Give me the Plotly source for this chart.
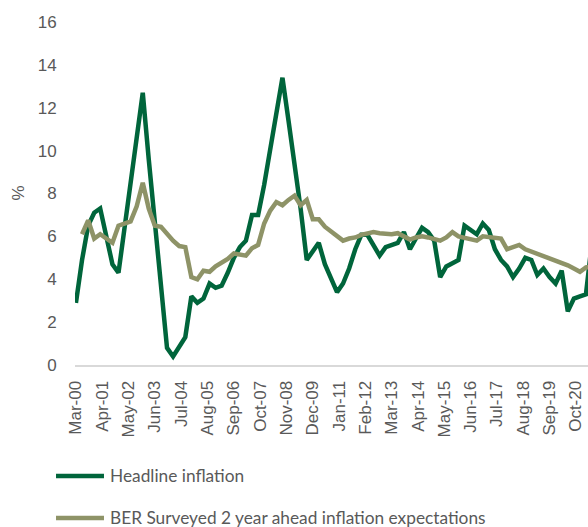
import pandas as pd
import plotly.graph_objects as go

# Quarterly observations, March 2000 to June 2021
quarters = pd.date_range("2000-03-01", "2021-06-01", freq="3MS")

headline = [
    2.9, 4.9, 6.5, 7.1,
    7.3, 5.9, 4.7, 4.3,
    6.4, 8.5, 10.6, 12.7,
    9.6, 6.6, 3.7, 0.8,
    0.4, 0.85, 1.3, 3.2,
    2.9, 3.1, 3.8, 3.6,
    3.7, 4.3, 5.0, 5.5,
    5.8, 7.0, 7.0, 8.4,
    10.1, 11.8, 13.4, 11.4,
    9.4, 7.3, 4.9, 5.3,
    5.7, 4.7, 4.0, 3.4,
    3.8, 4.5, 5.4, 6.07,
    6.07, 5.6, 5.1, 5.5,
    5.6, 5.7, 6.2, 5.4,
    5.9, 6.4, 6.2, 5.8,
    4.1, 4.6, 4.75, 4.9,
    6.5, 6.3, 6.1, 6.6,
    6.3, 5.4, 4.9, 4.6,
    4.1, 4.5, 5.0, 4.9,
    4.2, 4.5, 4.1, 3.8,
    4.4, 2.5, 3.1, 3.2,
    3.3, 5.8,
]

ber_expectations = [
    None, 6.1, 6.75, 5.9,
    6.1, 5.9, 5.7, 6.5,
    6.6, 6.7, 7.4, 8.5,
    7.3, 6.5, 6.45, 6.1,
    5.8, 5.55, 5.5, 4.1,
    4.0, 4.4, 4.35, 4.6,
    4.75, 4.95, 5.2, 5.15,
    5.1, 5.45, 5.6, 6.6,
    7.2, 7.6, 7.45, 7.7,
    7.9, 7.45, 7.7, 6.8,
    6.8, 6.45, 6.25, 6.0,
    5.8, 5.9, 5.95, 6.07,
    6.15, 6.2, 6.15, 6.1,
    6.1, 6.15, 6.0, 5.85,
    5.95, 6.0, 5.95, 5.85,
    5.8, 5.95, 6.2, 6.0,
    5.95, 5.9, 5.8, 6.0,
    5.95, 5.9, 5.9, 5.4,
    5.5, 5.6, 5.4, 5.3,
    5.2, 5.1, 5.0, 4.9,
    4.8, 4.65, 4.5, 4.35,
    4.55, 4.6,
]

tick_dates = [
    "2000-03-01", "2001-04-01", "2002-05-01", "2003-06-01", "2004-07-01",
    "2005-08-01", "2006-09-01", "2007-10-01", "2008-11-01", "2009-12-01",
    "2011-01-01", "2012-02-01", "2013-03-01", "2014-04-01", "2015-05-01",
    "2016-06-01", "2017-07-01", "2018-08-01", "2019-09-01", "2020-10-01",
]
tick_labels = [
    "Mar-00", "Apr-01", "May-02", "Jun-03", "Jul-04",
    "Aug-05", "Sep-06", "Oct-07", "Nov-08", "Dec-09",
    "Jan-11", "Feb-12", "Mar-13", "Apr-14", "May-15",
    "Jun-16", "Jul-17", "Aug-18", "Sep-19", "Oct-20",
]

series_names = ["Headline inflation", "BER Surveyed 2 year ahead inflation expectations"]
series_colors = ["#00653B", "#8E9367"]

fig = go.Figure()
for name, values, color in zip(series_names, [headline, ber_expectations], series_colors):
    fig.add_trace(go.Scatter(
        x=quarters, y=values, name=name, mode="lines",
        line=dict(color=color, width=4.5),
        connectgaps=False, showlegend=False,
    ))

tick_font = dict(family="Liberation Sans, Arial, sans-serif", size=17, color="#595959")

fig.update_layout(
    width=588, height=527,
    margin=dict(l=75, r=0, t=22, b=162),
    plot_bgcolor="white", paper_bgcolor="white",
    xaxis=dict(
        type="date",
        range=["2000-02-16", "2021-04-01"],
        tickmode="array", tickvals=tick_dates, ticktext=tick_labels,
        tickangle=-90, tickfont=tick_font,
        ticks="outside", ticklen=7, tickcolor="rgba(0,0,0,0)",
        showgrid=False, zeroline=False,
        showline=True, linecolor="#D9D9D9", linewidth=2,
    ),
    yaxis=dict(
        range=[0, 16], tickmode="array", tickvals=list(range(0, 17, 2)),
        tickfont=tick_font,
        ticks="outside", ticklen=14, tickcolor="rgba(0,0,0,0)",
        showgrid=False, zeroline=False, showline=False,
    ),
)

# Axis title
fig.add_annotation(
    text="%", xref="paper", yref="paper", x=-0.111, y=0.5,
    textangle=-90, showarrow=False, xanchor="center", yanchor="middle",
    font=tick_font,
)

# Legend below the chart: a line sample and a label per series
legend_font = dict(family="Lato, Carlito, sans-serif", size=17.3, color="#595959")
legend_rows = [-0.3236, -0.446]
for name, color, ypos in zip(series_names, series_colors, legend_rows):
    fig.add_shape(
        type="line", xref="paper", yref="paper",
        x0=-0.037, x1=0.0565, y0=ypos, y1=ypos,
        line=dict(color=color, width=4.5),
    )
    fig.add_annotation(
        text=name, xref="paper", yref="paper", x=0.0643, y=ypos,
        xanchor="left", yanchor="middle", showarrow=False, font=legend_font,
    )

fig.write_html("out.html")
